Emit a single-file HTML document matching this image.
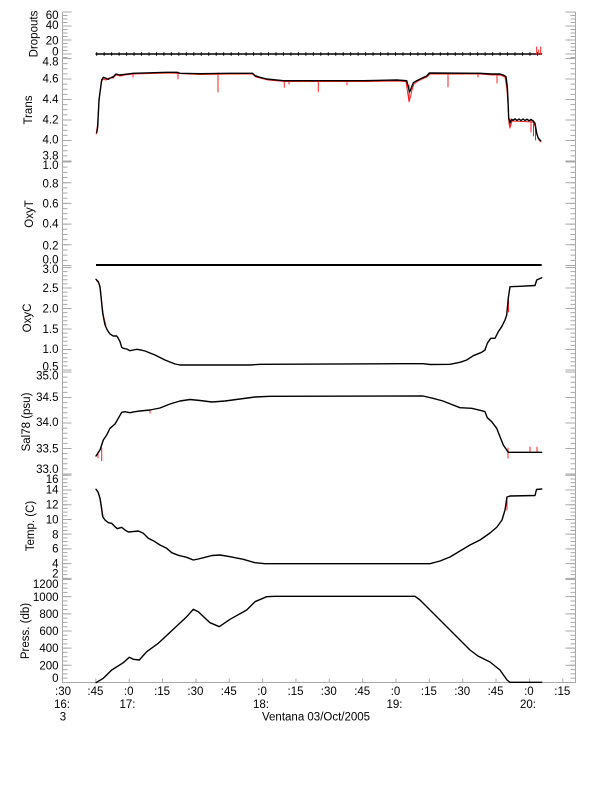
<!DOCTYPE html>
<html>
<head>
<meta charset="utf-8">
<style>
html,body{margin:0;padding:0;background:#fff;}
svg{display:block;}
text{font-family:"Liberation Sans",sans-serif;font-size:11.5px;fill:#000;}
</style>
</head>
<body>
<svg width="612" height="785" viewBox="0 0 612 785" xmlns="http://www.w3.org/2000/svg">
<rect width="612" height="785" fill="#fff"/>

<!-- Axes -->
<g stroke="#a8a8a8" fill="none">
  <line x1="62.5" y1="12" x2="62.5" y2="683" stroke-width="1"/>
  <line x1="575.5" y1="12" x2="575.5" y2="683" stroke-width="1"/>
  <line x1="62" y1="682.5" x2="576" y2="682.5" stroke-width="1"/>
  <line x1="62" y1="680.5" x2="576" y2="680.5" stroke-width="4" stroke-dasharray="1 32.35"/>

  <line x1="65" y1="11.5" x2="65" y2="58.5" stroke-width="5" stroke-dasharray="1 2.5"/>
  <line x1="65" y1="58" x2="65" y2="162" stroke-width="5" stroke-dasharray="1 4.125"/>
  <line x1="65" y1="161.5" x2="65" y2="266.5" stroke-width="5" stroke-dasharray="1 4.175"/>
  <line x1="65" y1="267" x2="65" y2="371" stroke-width="5" stroke-dasharray="1 3.1"/>
  <line x1="65" y1="371.5" x2="65" y2="475" stroke-width="5" stroke-dasharray="1 4.1"/>
  <line x1="65" y1="474.8" x2="65" y2="579" stroke-width="5" stroke-dasharray="1 2.68"/>
  <line x1="65" y1="579" x2="65" y2="683" stroke-width="5" stroke-dasharray="1 3.29"/>
  <line x1="67" y1="11.5" x2="67" y2="55" stroke-width="9" stroke-dasharray="1 13"/>
  <line x1="67" y1="58" x2="67" y2="162" stroke-width="9" stroke-dasharray="1 19.5"/>
  <line x1="67" y1="161.5" x2="67" y2="266.5" stroke-width="9" stroke-dasharray="1 19.7"/>
  <line x1="67" y1="267" x2="67" y2="371" stroke-width="9" stroke-dasharray="1 19.5"/>
  <line x1="67" y1="371.5" x2="67" y2="475" stroke-width="9" stroke-dasharray="1 24.5"/>
  <line x1="67" y1="474.8" x2="67" y2="579" stroke-width="9" stroke-dasharray="1 13.72"/>
  <line x1="67" y1="579" x2="67" y2="683" stroke-width="9" stroke-dasharray="1 16.16"/>

  <line x1="573" y1="11.5" x2="573" y2="58.5" stroke-width="5" stroke-dasharray="1 2.5"/>
  <line x1="573" y1="58" x2="573" y2="162" stroke-width="5" stroke-dasharray="1 4.125"/>
  <line x1="573" y1="161.5" x2="573" y2="266.5" stroke-width="5" stroke-dasharray="1 4.175"/>
  <line x1="573" y1="267" x2="573" y2="371" stroke-width="5" stroke-dasharray="1 3.1"/>
  <line x1="573" y1="371.5" x2="573" y2="475" stroke-width="5" stroke-dasharray="1 4.1"/>
  <line x1="573" y1="474.8" x2="573" y2="579" stroke-width="5" stroke-dasharray="1 2.68"/>
  <line x1="573" y1="579" x2="573" y2="683" stroke-width="5" stroke-dasharray="1 3.29"/>
  <line x1="570.5" y1="11.5" x2="570.5" y2="55" stroke-width="10" stroke-dasharray="1 13"/>
  <line x1="570.5" y1="58" x2="570.5" y2="162" stroke-width="10" stroke-dasharray="1 19.5"/>
  <line x1="570.5" y1="161.5" x2="570.5" y2="266.5" stroke-width="10" stroke-dasharray="1 19.7"/>
  <line x1="570.5" y1="267" x2="570.5" y2="371" stroke-width="10" stroke-dasharray="1 19.5"/>
  <line x1="570.5" y1="371.5" x2="570.5" y2="475" stroke-width="10" stroke-dasharray="1 24.5"/>
  <line x1="570.5" y1="474.8" x2="570.5" y2="579" stroke-width="10" stroke-dasharray="1 13.72"/>
  <line x1="570.5" y1="579" x2="570.5" y2="683" stroke-width="10" stroke-dasharray="1 16.16"/>
</g>

<g text-anchor="end">
  <text x="58.5" y="19">60</text>
  <text x="58.5" y="29">40</text>
  <text x="58.5" y="44.5">20</text>
  <text x="58.5" y="55.5">0</text>

  <text x="58.5" y="65.5">4.8</text>
  <text x="58.5" y="82.5">4.6</text>
  <text x="58.5" y="103">4.4</text>
  <text x="58.5" y="123.7">4.2</text>
  <text x="58.5" y="143.7">4.0</text>
  <text x="58.5" y="159.7">3.8</text>

  <text x="58.5" y="169">1.0</text>
  <text x="58.5" y="187.3">0.8</text>
  <text x="58.5" y="207.5">0.6</text>
  <text x="58.5" y="227.7">0.4</text>
  <text x="58.5" y="249.7">0.2</text>
  <text x="58.5" y="263.4">0.0</text>

  <text x="58.5" y="273.2">3.0</text>
  <text x="58.5" y="292">2.5</text>
  <text x="58.5" y="312.7">2.0</text>
  <text x="58.5" y="333">1.5</text>
  <text x="58.5" y="353">1.0</text>
  <text x="58.5" y="370.7">0.5</text>

  <text x="58.5" y="379.7">35.0</text>
  <text x="58.5" y="401">34.5</text>
  <text x="58.5" y="426">34.0</text>
  <text x="58.5" y="452.7">33.5</text>
  <text x="58.5" y="473">33.0</text>

  <text x="58.5" y="483">16</text>
  <text x="58.5" y="493.7">14</text>
  <text x="58.5" y="508.7">12</text>
  <text x="58.5" y="523.7">10</text>
  <text x="58.5" y="538.7">8</text>
  <text x="58.5" y="552.7">6</text>
  <text x="58.5" y="567.7">4</text>
  <text x="58.5" y="577.7">2</text>

  <text x="58.5" y="588.2">1200</text>
  <text x="58.5" y="601.2">1000</text>
  <text x="58.5" y="618.2">800</text>
  <text x="58.5" y="635.2">600</text>
  <text x="58.5" y="652">400</text>
  <text x="58.5" y="669.4">200</text>
  <text x="58.5" y="682">0</text>
</g>

<g text-anchor="middle">
  <text x="37.5" y="34" transform="rotate(-90 37.5 34)">Dropouts</text>
  <text x="32" y="110" transform="rotate(-90 32 110)">Trans</text>
  <text x="33" y="214" transform="rotate(-90 33 214)">OxyT</text>
  <text x="31" y="318" transform="rotate(-90 31 318)">OxyC</text>
  <text x="30" y="422" transform="rotate(-90 30 422)">Sal78 (psu)</text>
  <text x="34" y="526" transform="rotate(-90 34 526)">Temp. (C)</text>
  <text x="29" y="631" transform="rotate(-90 29 631)">Press. (db)</text>
</g>

<g text-anchor="middle">
  <text x="63" y="695">:30</text>
  <text x="95.4" y="695">:45</text>
  <text x="128.7" y="695">:0</text>
  <text x="162.1" y="695">:15</text>
  <text x="195.4" y="695">:30</text>
  <text x="228.8" y="695">:45</text>
  <text x="262.1" y="695">:0</text>
  <text x="295.5" y="695">:15</text>
  <text x="328.8" y="695">:30</text>
  <text x="362.2" y="695">:45</text>
  <text x="395.5" y="695">:0</text>
  <text x="428.9" y="695">:15</text>
  <text x="462.2" y="695">:30</text>
  <text x="495.6" y="695">:45</text>
  <text x="528.9" y="695">:0</text>
  <text x="562.3" y="695">:15</text>

  <text x="62" y="708">16:</text>
  <text x="127.5" y="708">17:</text>
  <text x="261" y="708">18:</text>
  <text x="394.5" y="708">19:</text>
  <text x="528" y="708">20:</text>

  <text x="63" y="720.7">3</text>
</g>
<text x="262" y="720.7">Ventana 03/Oct/2005</text>

<g fill="none" stroke-linejoin="round" stroke-linecap="round">

<line x1="96" y1="54" x2="541.5" y2="54" stroke="#000" stroke-width="1.4"/>
<line x1="96.2" y1="54" x2="542" y2="54" stroke="#000" stroke-width="3.5" stroke-dasharray="1 6.47" stroke-linecap="butt"/>
<g stroke="#ff2020" stroke-width="1">
  <line x1="536.7" y1="54" x2="536.7" y2="47"/>
  <line x1="540.7" y1="54" x2="540.7" y2="47"/>
  <line x1="538.7" y1="54" x2="538.7" y2="50"/>
</g>

<g stroke="#ff2020" stroke-width="1">
  <polyline points="96.2,134 97.5,125 99,102 100,92 101.2,82 103,79 106,80 109,78 113,78 116,75 120,76 125,75 133,74 150,73.5 170,73 200,74.5 230,74 252,74 256,77 262,78.5 268,80 285,81.5 365,81.5 397,81 406,81.5 408,95 409,101.7 410.5,97 412,90 414,84 418,81 422,79 427,77 430,74 480,74 492,75 500,75 505,77 507,90 508.3,110 509,124 510,128 512,121 533,122 535,126 537,135 539,140 541,142"/>
  <line x1="133" y1="73" x2="133" y2="77"/>
  <line x1="178" y1="72" x2="178" y2="79"/>
  <line x1="218" y1="73" x2="218" y2="92"/>
  <line x1="284.3" y1="80.7" x2="284.3" y2="87.3"/>
  <line x1="289" y1="80.7" x2="289" y2="84"/>
  <line x1="318.3" y1="80.7" x2="318.3" y2="91.7"/>
  <line x1="347" y1="80.7" x2="347" y2="85"/>
  <line x1="409" y1="85" x2="409" y2="101.7"/>
  <line x1="448" y1="73" x2="448" y2="86.7"/>
  <line x1="478" y1="73" x2="478" y2="77"/>
  <line x1="497" y1="74" x2="497" y2="83"/>
  <line x1="510" y1="119" x2="510" y2="128"/>
  <line x1="531" y1="121" x2="531" y2="132"/>
  <line x1="533.5" y1="121" x2="533.5" y2="136"/>
  <line x1="535.5" y1="125" x2="535.5" y2="140"/>
</g>
<polyline stroke="#000" stroke-width="1.4" points="96.7,132.7 97.7,126.7 99,100 100.7,87.3 101.7,80 103.3,77.3 106,78.3 108.3,79.3 111,77.7 113.3,76.7 116,74 120,75 125,74.3 133.3,73.3 150,72.8 166.7,72.3 176.7,72.3 180,73.3 200,73.7 230,73.3 252.7,73.3 255,75.7 260,77.3 266.7,79 283.3,80.7 363.3,80.7 396.7,80 406.7,80.7 408.3,87 409.5,92 410.5,90 411.7,86.7 413.3,82.7 416.7,80.7 421.7,78.3 426.7,76 429.3,73 480,73.3 491.7,74 500,74 503.3,75 506,76.7 507.3,86.7 508,100 508.7,118.3 510,123 511.7,119.3 513,120.3 515,118.8 517,120.5 519,119 521,120.6 523,119 525,120.5 527,119.2 529,120.8 531,119.5 533.3,121 535,123.3 536.7,133.3 538.3,138.3 540.7,140.7"/>

<line x1="96" y1="265" x2="541.7" y2="265" stroke="#000" stroke-width="2" stroke-linecap="butt"/>

<polyline stroke="#ff2020" stroke-width="1" points="96.5,280.5 98.8,283 100.5,290 102,305 103.5,316 106,326"/>
<line x1="508.5" y1="300" x2="508.5" y2="312" stroke="#ff2020" stroke-width="1"/>
<polyline stroke="#000" stroke-width="1.4" points="96,279.3 98.3,281.7 100,286.7 101.7,303.3 102.7,313.3 105,325 107.3,330 110,334 113.3,336 116.7,336 118.3,338.3 120,341.7 121.7,347.3 123.3,348.3 126.7,349 130,350.7 133.3,350 136.7,349.3 140,349.8 145,351 150,353 155,355 160,357.5 165,360 170,362 175,364 180,365 250,365 260,364.3 400,363.7 423,363.7 430,364.5 450,364.3 460,362.3 466.7,360 473.3,355.7 481.7,352.3 485,350 487.3,343.3 490.7,338.3 495,338.3 498.3,331.7 501.7,326.7 505,320 506.7,315 508.3,298 510,286.7 520,286.3 535,285.5 536.7,280 541.7,277.7"/>

<g stroke="#ff2020" stroke-width="1">
  <line x1="101.7" y1="448" x2="101.7" y2="460.7"/>
  <line x1="98" y1="452" x2="98" y2="458"/>
  <line x1="508" y1="448" x2="508" y2="458"/>
  <line x1="530" y1="452" x2="530" y2="447"/>
  <line x1="537" y1="452" x2="537" y2="447"/>
  <line x1="150" y1="410" x2="150" y2="413"/>
</g>
<polyline stroke="#000" stroke-width="1.4" points="96,456 98,453 100,450 103.3,440 106.7,435 110,428.3 115,424 118.3,418.3 121.7,412.3 125,411.7 130,412.7 135,411.7 140,411 150,410 160,408 170,404 180,401 190,399.5 200,400.5 212,402 225,401 240,399 255,397 270,396.3 423,396 433,398.3 443,401 453,405 460,407.7 471.7,408.3 481.7,410.7 485,411.7 487.3,417.7 491.7,421.7 496.7,428.3 500,436.7 503.3,445 506.7,450 508.3,452.3 541.7,452.3"/>

<polyline stroke="#ff2020" stroke-width="1" points="96.5,490 98.5,493 100.5,500 102,510 103.2,517.5"/>
<line x1="507" y1="500" x2="507" y2="510" stroke="#ff2020" stroke-width="1"/>
<polyline stroke="#000" stroke-width="1.4" points="96,489.3 98,492 100,498.3 101.5,508 102.7,516.7 105,520 108.3,522.7 111.7,523.3 115,526.7 117.3,528.7 121.7,527.3 125,530 128.3,532 131.7,531.7 138.3,531 143.3,533.3 148.3,538.3 153.3,540.7 160,545 166.7,548.3 171.7,552.7 178.3,555.3 186.7,557.3 193.3,560 198.3,559 205,557.3 212,555.5 220,555 230,556.7 243.3,559.3 255,562.7 265,563.7 430,563.7 440,561 450,557 460,551 470,545 480,540 490,533 497,527 502,520 505,510 507,497 510,496 535,495.5 536.5,489.5 541.7,489"/>

<polyline stroke="#000" stroke-width="1.4" points="96,682.7 103.3,678.3 111.7,670 123.3,662.7 129.3,657.3 133.3,659.3 139.3,660 146.7,651.7 158.3,643.3 173.3,629.3 186.7,616.7 193.3,609.3 198.3,611.7 210,622.7 219.3,626.7 230,619.3 246.7,610 255,601.7 266.7,596.7 275,596.3 415,596.3 420,600 430,610 440,620 450,630 460,640 470,650 478,656 490,662 500,670 507,680 510,682.3 541.7,682.3"/>

</g>
</svg>
</body>
</html>
